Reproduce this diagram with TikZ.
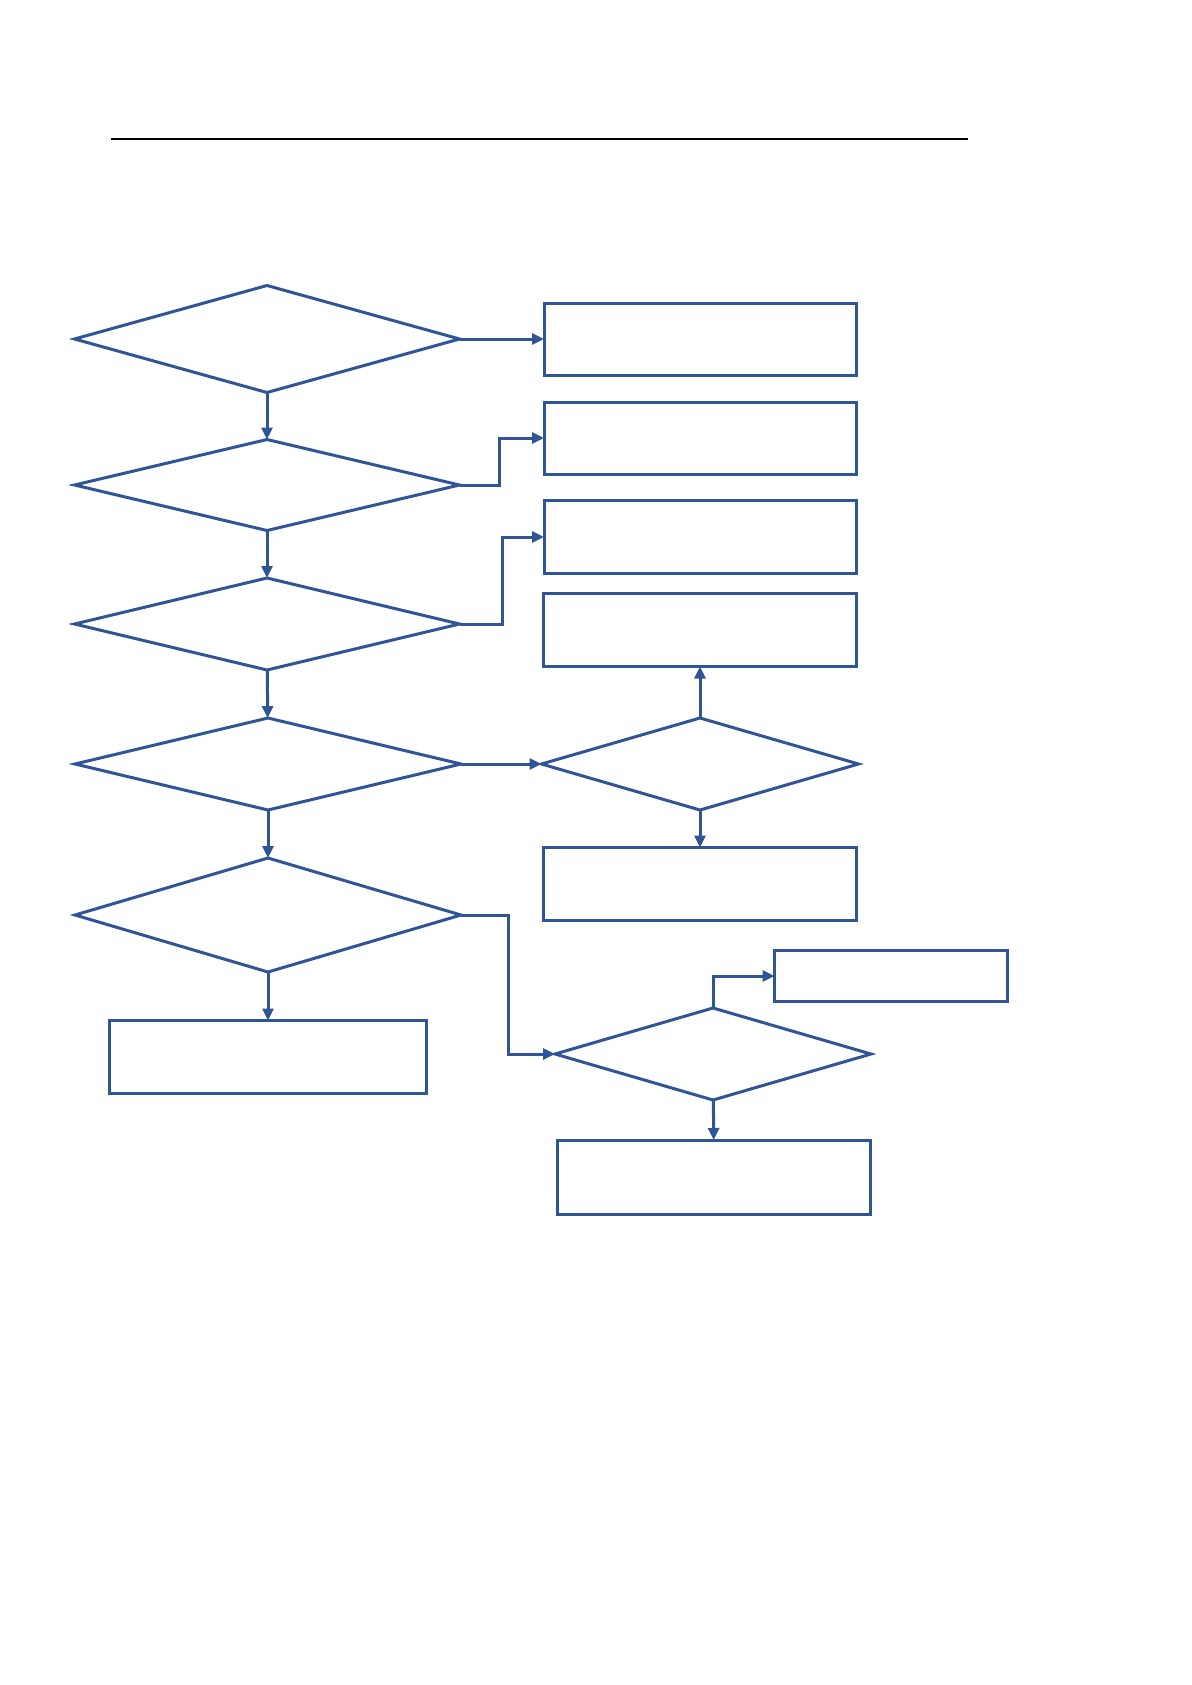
\documentclass[tikz,border=0pt]{standalone}
\usepackage{tikz}
\usetikzlibrary{positioning, shapes.geometric, arrows.meta}

\definecolor{flowblue}{HTML}{2F5597}

\begin{document}
\begin{tikzpicture}[
  x=0.5pt, y=-0.5pt,
  box/.style={rectangle, draw=flowblue, line width=1.5pt, inner sep=0pt, outer sep=0pt},
  test/.style={diamond, draw=flowblue, line width=1.5pt, inner sep=0pt, outer sep=0pt},
  arr/.style={-{Triangle[length=6pt, width=5.5pt]}, draw=flowblue, line width=1.5pt},
]
  \useasboundingbox (0,0) rectangle (1191,1685);
  \draw[line width=1pt] (111,139) -- (968,139);

  \node[test, minimum width=192.5pt, minimum height=53.5pt] (d1) at (267,339) {};
  \node[test, minimum width=192.5pt, minimum height=45.5pt] (d2) at (267,485) {};
  \node[test, minimum width=192.5pt, minimum height=46pt] (d3) at (267,624) {};
  \node[test, minimum width=193pt, minimum height=46pt] (d4) at (268,764) {};
  \node[test, minimum width=193pt, minimum height=57pt] (d6) at (268,915) {};
  \node[test, minimum width=158.5pt, minimum height=46pt] (d5) at (700,764) {};
  \node[test, minimum width=158pt, minimum height=46pt] (d7) at (713,1054) {};

  \node[box, minimum width=156pt, minimum height=36pt] (b1) at (700,339) {};
  \node[box, minimum width=156pt, minimum height=36pt] (b2) at (700,438) {};
  \node[box, minimum width=156pt, minimum height=36.5pt] (b3) at (700,537) {};
  \node[box, minimum width=156.5pt, minimum height=36.5pt] (b4) at (700,630) {};
  \node[box, minimum width=156.5pt, minimum height=36.5pt] (b5) at (700,884) {};
  \node[box, minimum width=158.5pt, minimum height=36.5pt] (b6) at (268,1057) {};
  \node[box, minimum width=116.5pt, minimum height=25.5pt] (b7) at (891,976) {};
  \node[box, minimum width=156.5pt, minimum height=37pt] (b8) at (714,1177) {};

  \draw[arr] (d1.east) -- (b1.west);
  \draw[arr] (d1) -- (d2);
  \draw[arr] (d2.east) -- ++(40,0) |- (b2.west);
  \draw[arr] (d2) -- (d3);
  \draw[arr] (d3.east) -- ++(43,0) |- (b3.west);
  \draw[arr] (d3) -- (d4);
  \draw[arr] (d4) -- (d5);
  \draw[arr] (d5) -- (b4);
  \draw[arr] (d5) -- (b5);
  \draw[arr] (d4) -- (d6);
  \draw[arr] (d6) -- (b6);
  \draw[arr] (d6.east) -- ++(47,0) |- (d7.west);
  \draw[arr] (d7.north) |- (b7.west);
  \draw[arr] (d7) -- (b8);
\end{tikzpicture}
\end{document}
